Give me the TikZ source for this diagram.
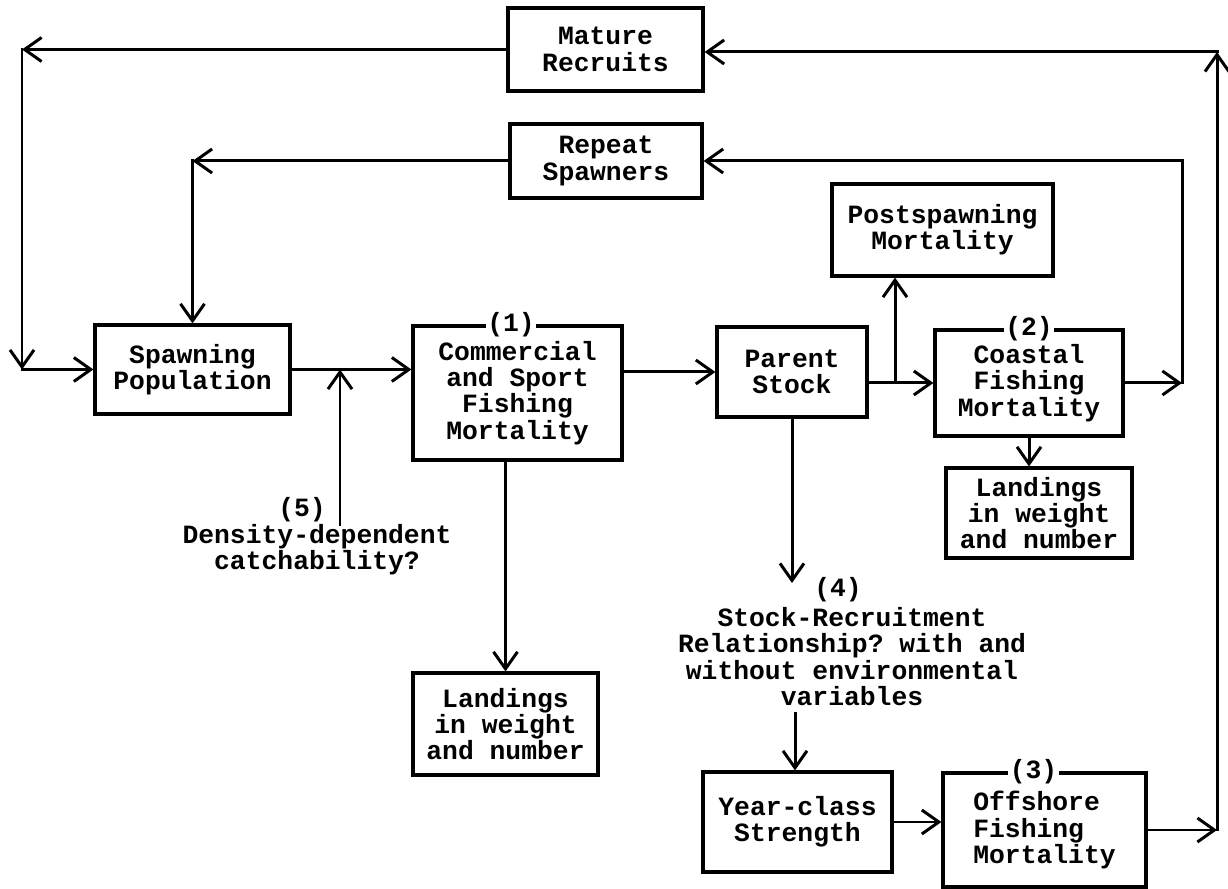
\documentclass[tikz,border=0pt]{standalone}
\usepackage{fontspec}
\setmonofont{Liberation Mono}
\usetikzlibrary{arrows.meta}

\begin{document}
\begin{tikzpicture}[
	every node/.style={font=\ttfamily\bfseries\fontsize{15}{15}\selectfont},
	box/.style={draw, line width=1.8pt, align=center, inner sep=0pt},
	tag/.style={fill=white, inner sep=1pt},
	link/.style={line width=1.7pt, line cap=rect},
	flow/.style={link, -{Straight Barb[length=3.4mm,width=4.8mm]}}
	]
	\useasboundingbox (0,0) rectangle (24.56,17.78);

	\node[box, minimum width=3.9cm,  minimum height=1.66cm] (mature) at (12.11,16.79) {Mature\\Recruits};
	\node[box, minimum width=3.84cm, minimum height=1.48cm] (repeat) at (12.12,14.56) {Repeat\\Spawners};
	\node[box, minimum width=3.9cm,  minimum height=1.78cm] (spawn)  at (3.85,10.39)  {Spawning\\Population};
	\node[box, minimum width=4.18cm, minimum height=2.68cm] (comm)   at (10.35,9.92)  {Commercial\\and Sport\\Fishing\\Mortality};
	\node[box, minimum width=3.0cm,  minimum height=1.8cm]  (parent) at (15.84,10.34) {Parent\\Stock};
	\node[box, minimum width=4.42cm, minimum height=1.84cm] (post)   at (18.85,13.18) {Postspawning\\Mortality};
	\node[box, minimum width=3.76cm, minimum height=2.12cm] (coast)  at (20.58,10.12) {Coastal\\Fishing\\Mortality};
	\node[box, minimum width=3.72cm, minimum height=1.8cm]  (landR)  at (20.78,7.52)  {Landings\\in weight\\and number};
	\node[box, minimum width=3.7cm,  minimum height=2.04cm] (landL)  at (10.11,3.30)  {Landings\\in weight\\and number};
	\node[box, minimum width=3.78cm, minimum height=2.0cm]  (year)   at (15.95,1.34)  {Year-class\\Strength};
	\node[box, align=left, minimum width=4.06cm, minimum height=2.28cm] (off) at (20.89,1.18) {Offshore\\Fishing\\Mortality};

	\node[tag] (n1) at ([xshift=-0.13cm]comm.north) {(1)};
	\node[tag] (n2) at (coast.north) {(2)};
	\node[tag] (n3) at ([xshift=-0.22cm]off.north) {(3)};

	\node[inner sep=0pt] (n5) at (6.04,7.58) {(5)};
	\node[inner sep=0pt, align=center] (dens) at (6.34,6.78) {Density-dependent\\catchability?};
	\node[inner sep=0pt] (n4) at (16.76,5.98) {(4)};
	\node[inner sep=0pt, align=center] (sr) at (17.04,4.65) {Stock-Recruitment\\Relationship? with and\\without environmental\\variables};

	\coordinate (rtop) at (24.34,16.74);
	\coordinate (lcol) at (0.44,0);
	\coordinate (rcol) at (23.64,0);
	\coordinate (pj)   at (17.9,0);
	\coordinate (dfoot) at (6.8,7.28);
	\coordinate (s4)   at (15.94,6.12);
	\coordinate (s4b)  at (15.9,3.52);

	% outer loop to the mature recruits
	\draw[flow] (off.east) -- (off.east -| rtop);
	\draw[flow] (off.east -| rtop) -- (rtop);
	\draw[flow] (rtop) -- (rtop -| mature.east);
	\draw[flow] (mature.west) -- (mature.west -| lcol);
	\draw[flow] (mature.west -| lcol) -- (lcol |- spawn.west);
	\draw[flow] (lcol |- spawn.west) -- (spawn.west);

	% repeat spawners loop
	\draw[flow] (coast.east) -- (coast.east -| rcol);
	\draw[link] (coast.east -| rcol) -- (rcol |- repeat.east);
	\draw[flow] (rcol |- repeat.east) -- (repeat.east);
	\draw[flow] (repeat.west) -- (repeat.west -| spawn.north);
	\draw[flow] (repeat.west -| spawn.north) -- (spawn.north);

	\draw[flow] (spawn.east) -- (spawn.east -| comm.west);
	\draw[flow] (dfoot) -- (dfoot |- spawn.east);
	\draw[flow] (parent.west -| comm.east) -- (parent.west);
	\draw[flow] (landL.north |- comm.south) -- (landL.north);
	\draw[flow] (coast.west -| parent.east) -- (coast.west);
	\draw[flow] (pj |- coast.west) -- (pj |- post.south);
	\draw[flow] (coast.south) -- (coast.south |- landR.north);
	\draw[flow] (parent.south) -- (parent.south |- s4);
	\draw[flow] (s4b) -- (s4b |- year.north);
	\draw[flow] (year.east) -- (year.east -| off.west);
\end{tikzpicture}
\end{document}
